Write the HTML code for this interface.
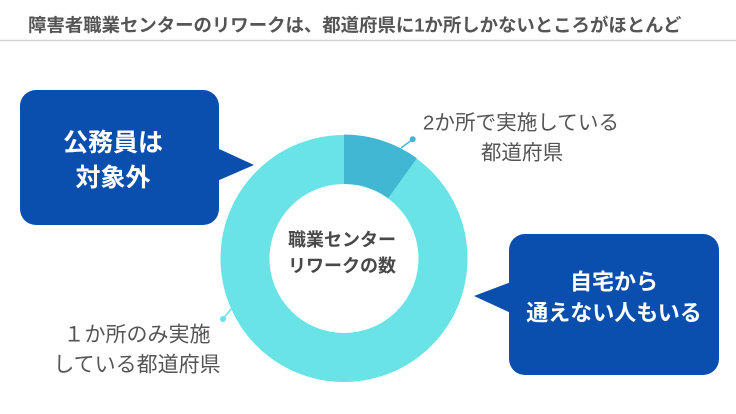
<!DOCTYPE html>
<html>
<head>
<meta charset="utf-8">
<style>
html,body{margin:0;padding:0;background:#fff;}
body{width:736px;height:414px;overflow:hidden;}
svg{display:block;font-family:"Liberation Sans","Noto Sans CJK JP",sans-serif;}
</style>
</head>
<body>
<svg width="736" height="414" viewBox="0 0 736 414" xmlns="http://www.w3.org/2000/svg">
  <rect x="0" y="0" width="736" height="414" fill="#ffffff"/>
  <!-- Title -->
  <text x="28" y="25" dominant-baseline="central" font-size="18.4" font-weight="bold" fill="#555555">障害者職業センターのリワークは、都道府県に1か所しかないところがほとんど</text>
  <line x1="0" y1="40.5" x2="736" y2="40.5" stroke="#d4d4d4" stroke-width="1.5"/>

  <!-- Donut -->
  <circle cx="344" cy="258.5" r="99" fill="none" stroke="#6ae3e6" stroke-width="49"/>
  <path d="M344,134.5 A124,124 0 0 1 416.9,158.2 L388.1,198.2 A74.5,74.5 0 0 0 344,184 Z" fill="#42b7d4"/>

  <!-- Connectors -->
  <line x1="401" y1="148" x2="412.7" y2="139.3" stroke="#42b7d4" stroke-width="1.5"/>
  <circle cx="412.7" cy="139.3" r="3" fill="#42b7d4"/>
  <line x1="232" y1="308" x2="223" y2="319" stroke="#6ae3e6" stroke-width="1.5"/>
  <circle cx="223" cy="319" r="3" fill="#6ae3e6"/>

  <!-- Center text -->
  <text x="342" y="240" text-anchor="middle" dominant-baseline="central" font-size="18" font-weight="bold" fill="#484848">職業センター</text>
  <text x="342" y="266" text-anchor="middle" dominant-baseline="central" font-size="18" font-weight="bold" fill="#484848">リワークの数</text>

  <!-- Right-top label -->
  <text x="521" y="123" text-anchor="middle" dominant-baseline="central" font-size="20.6" fill="#555555">2か所で実施している</text>
  <text x="522" y="153" text-anchor="middle" dominant-baseline="central" font-size="20.6" fill="#555555">都道府県</text>

  <!-- Left-bottom label -->
  <text x="137" y="335" text-anchor="middle" dominant-baseline="central" font-size="21" fill="#555555">１か所のみ実施</text>
  <text x="137" y="365" text-anchor="middle" dominant-baseline="central" font-size="21" fill="#555555">している都道府県</text>

  <!-- Left bubble -->
  <rect x="20" y="90" width="199" height="135" rx="16" ry="16" fill="#0a4fae"/>
  <polygon points="217,148 254,165 217,181" fill="#0a4fae"/>
  <text x="113" y="143" text-anchor="middle" dominant-baseline="central" font-size="25" font-weight="bold" fill="#ffffff">公務員は</text>
  <text x="113" y="178" text-anchor="middle" dominant-baseline="central" font-size="25" font-weight="bold" fill="#ffffff">対象外</text>

  <!-- Right bubble -->
  <rect x="509" y="234" width="210" height="141" rx="16" ry="16" fill="#0a4fae"/>
  <polygon points="511,282 474,296 511,313" fill="#0a4fae"/>
  <text x="614" y="282" text-anchor="middle" dominant-baseline="central" font-size="22" font-weight="bold" fill="#ffffff">自宅から</text>
  <text x="614" y="313" text-anchor="middle" dominant-baseline="central" font-size="22" font-weight="bold" fill="#ffffff">通えない人もいる</text>
</svg>
</body>
</html>
